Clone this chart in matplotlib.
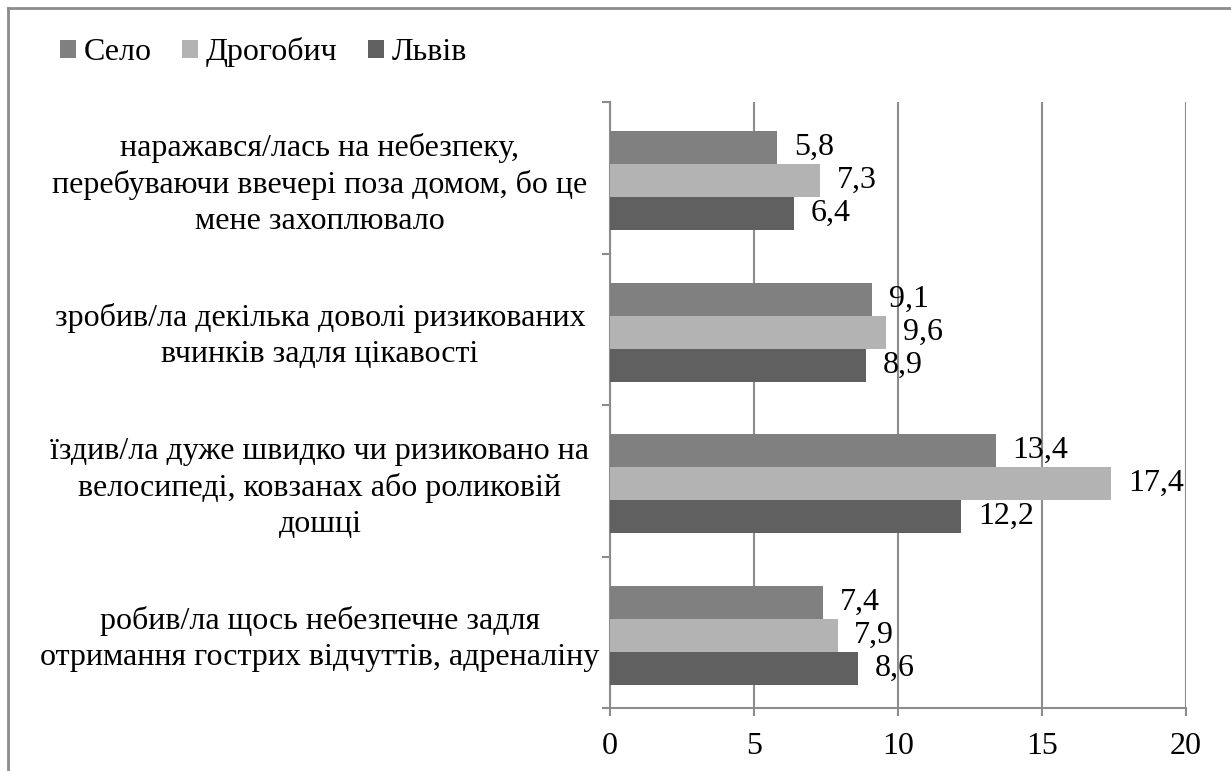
import numpy as np
import matplotlib as mpl
mpl.use("Agg")
import matplotlib.pyplot as plt
from matplotlib.patches import Patch
from matplotlib.lines import Line2D

plt.rcParams["font.family"] = ["Liberation Serif", "DejaVu Serif"]

categories = [
    "наражався/лась на небезпеку,\nперебуваючи ввечері поза домом, бо це\nмене захоплювало",
    "зробив/ла декілька доволі ризикованих\nвчинків задля цікавості",
    "їздив/ла дуже швидко чи ризиковано на\nвелосипеді, ковзанах або роликовій\nдошці",
    "робив/ла щось небезпечне задля\nотримання гострих відчуттів, адреналіну",
]
series = ["Село", "Дрогобич", "Львів"]
selo = [5.8, 9.1, 13.4, 7.4]
drohobych = [7.3, 9.6, 17.4, 7.9]
lviv = [6.4, 8.9, 12.2, 8.6]
xticks = [0, 5, 10, 15, 20]

colors = ["#808080", "#b3b3b3", "#606060"]
grey = "#8c8c8c"
W, H = 1231, 771
fs = 23

fig = plt.figure(figsize=(W / 100, H / 100), dpi=100)
ax = fig.add_axes([610 / W, (H - 708) / H, (1186 - 610) / W, (708 - 102) / H])

y = np.arange(len(categories))
h = 0.218
for i, (vals, c) in enumerate(zip([selo, drohobych, lviv], colors)):
    pos = y + (i - 1) * h + 0.02
    ax.barh(pos, vals, height=h, color=c, label=series[i], zorder=3)
    for p, v in zip(pos, vals):
        ax.annotate(f"{v:.1f}".replace(".", ","), (v, p), xytext=(12, 0),
                    textcoords="offset points", va="center", ha="left", fontsize=fs, zorder=4)

ax.set_xlim(0, 20)
ax.set_ylim(3.5, -0.5)
ax.set_xticks(xticks)
ax.set_xticklabels([str(t) for t in xticks], fontsize=fs)
ax.xaxis.grid(True, color=grey, lw=1.5, zorder=0)
for s in ["top", "right"]:
    ax.spines[s].set_visible(False)
for s in ["left", "bottom"]:
    ax.spines[s].set_color(grey)
    ax.spines[s].set_linewidth(1.5)
ax.tick_params(axis="x", length=6, width=1.5, color=grey, pad=11)
ax.set_yticks(y)
ax.set_yticklabels(categories, fontsize=fs, ha="center", multialignment="center",
                   linespacing=1.32)
ax.tick_params(axis="y", which="major", length=0, pad=(610 - 320) * 0.72)
ax.set_yticks(np.arange(-0.5, 4, 1), minor=True)
ax.tick_params(axis="y", which="minor", length=6, width=1.5, color=grey)

handles = [Patch(facecolor=c, edgecolor="none") for c in colors]
fig.legend(handles, series, loc="center left", bbox_to_anchor=(47 / W, 1 - 52 / H),
           ncol=3, frameon=False, fontsize=fs, handlelength=0.5, handleheight=0.5,
           handletextpad=0.25, columnspacing=0.95, borderaxespad=0)

fig.add_artist(Line2D([8 / W, 8 / W], [0, 1 - 8 / H], color=grey, lw=2, transform=fig.transFigure))
fig.add_artist(Line2D([8 / W, 1], [1 - 8 / H, 1 - 8 / H], color=grey, lw=2, transform=fig.transFigure))

fig.savefig("out.png", dpi=100)
